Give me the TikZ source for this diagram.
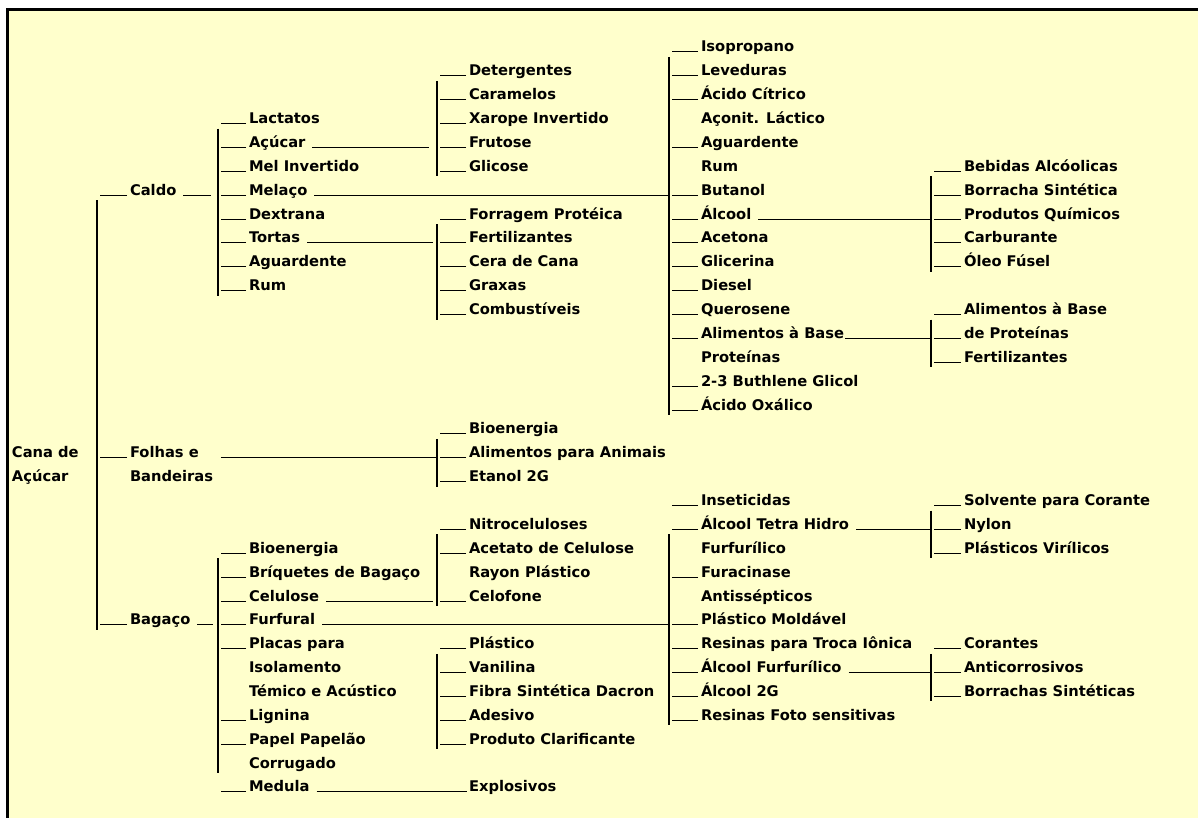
\documentclass[tikz,border=0pt]{standalone}
\usepackage{fontspec}
\setmainfont{DejaVu Sans}
\usepackage{xcolor}
\definecolor{chartpaper}{HTML}{FFFFCC}
\tikzset{
  item/.style={
    anchor=base west,
    inner sep=0pt,
    outer sep=0pt,
    font=\fontsize{14.7}{17}\selectfont\bfseries
  },
  stub/.style={
    line width=1pt,
    shorten <=3pt,
    shorten >=3pt
  },
  link/.style={
    line width=1pt,
    shorten <=7pt
  },
  bar/.style={
    line width=1.4pt,
    shorten <=5pt,
    shorten >=-5pt
  },
  heavybar/.style={
    bar,
    line width=2.8pt
  },
  frameline/.style={
    line width=3pt
  }
}

\begin{document}
\begin{tikzpicture}[x=1pt, y=-23.87pt]
\useasboundingbox (0,-2.1785) rectangle (1198,32.0905);
\fill[white] (0,-2.1785) rectangle (1198,32.0905);
\fill[chartpaper] (7.5,-1.801) rectangle (1198,32.0905);
\draw[frameline] (7.5,32.0905) -- (7.5,-1.801) -- (1198,-1.801);

% raiz
\node[item] (cana) at (12,17) {Cana de};
\node[item] (canab) at (12,18) {Açúcar};

% primeiro nivel
\coordinate (mainbar) at (97,0);
\foreach \rw/\nm/\lbl in {6/caldo/Caldo, 17/folhas/Folhas e, 24/bagaco/Bagaço}{
  \node[item] (\nm) at (130,\rw) {\lbl};
  \draw[stub] (\nm.base west) -- (\nm.base west -| mainbar);
}
\node[item] (bandeiras) at (130,18) {Bandeiras};
\draw[heavybar] (caldo.base west -| mainbar) -- (bagaco.base west -| mainbar);

% caldo
\coordinate (caldobar) at (218,0);
\foreach \rw/\nm/\lbl in {3/lactatos/Lactatos, 4/acucar/Açúcar, 5/melinv/Mel Invertido,
    6/melaco/Melaço, 7/dextrana/Dextrana, 8/tortas/Tortas, 9/aguardcaldo/Aguardente, 10/rumcaldo/Rum}{
  \node[item] (\nm) at (249,\rw) {\lbl};
  \draw[stub] (\nm.base west) -- (\nm.base west -| caldobar);
}
\draw[bar] (lactatos.base west -| caldobar) -- (rumcaldo.base west -| caldobar);
\draw[link, shorten >=7pt] (caldo.base east) -- (caldo.base east -| caldobar);

% acucar
\coordinate (acucarbar) at (437,0);
\foreach \rw/\nm/\lbl in {1/detergentes/Detergentes, 2/caramelos/Caramelos, 3/xarope/Xarope Invertido,
    4/frutose/Frutose, 5/glicose/Glicose}{
  \node[item] (\nm) at (469,\rw) {\lbl};
  \draw[stub] (\nm.base west) -- (\nm.base west -| acucarbar);
}
\draw[bar] (detergentes.base west -| acucarbar) -- (glicose.base west -| acucarbar);
\draw[link, shorten >=8pt] (acucar.base east) -- (acucar.base east -| acucarbar);

% tortas
\coordinate (tortasbar) at (437,0);
\foreach \rw/\nm/\lbl in {7/forragem/Forragem Protéica, 8/fertcaldo/Fertilizantes, 9/cera/Cera de Cana,
    10/graxas/Graxas, 11/combustiveis/Combustíveis}{
  \node[item] (\nm) at (469,\rw) {\lbl};
  \draw[stub] (\nm.base west) -- (\nm.base west -| tortasbar);
}
\draw[bar] (forragem.base west -| tortasbar) -- (combustiveis.base west -| tortasbar);
\draw[link, shorten >=4pt] (tortas.base east) -- (tortas.base east -| tortasbar);

% melaco
\coordinate (melacobar) at (669,0);
\foreach \rw/\nm/\lbl in {0/isopropano/Isopropano, 1/leveduras/Leveduras, 2/citrico/Ácido Cítrico,
    4/aguardmel/Aguardente, 6/butanol/Butanol, 7/alcool/Álcool, 8/acetona/Acetona,
    9/glicerina/Glicerina, 10/diesel/Diesel, 11/querosene/Querosene, 12/alimbase/Alimentos à Base,
    14/buthlene/2-3 Buthlene Glicol, 15/oxalico/Ácido Oxálico}{
  \node[item] (\nm) at (701,\rw) {\lbl};
  \draw[stub] (\nm.base west) -- (\nm.base west -| melacobar);
}
\node[item] (aconit) at (701,3) {Açonit. Láctico};
\node[item] (rummel) at (701,5) {Rum};
\node[item] (proteinas) at (701,13) {Proteínas};
\draw[bar] (isopropano.base west -| melacobar) -- (oxalico.base west -| melacobar);
\draw[link] (melaco.base east) -- (melaco.base east -| melacobar);

% alcool
\coordinate (alcoolbar) at (931,0);
\foreach \rw/\nm/\lbl in {5/bebidas/Bebidas Alcóolicas, 6/borracha/Borracha Sintética,
    7/quimicos/Produtos Químicos, 8/carburante/Carburante, 9/oleo/Óleo Fúsel}{
  \node[item] (\nm) at (964,\rw) {\lbl};
  \draw[stub] (\nm.base west) -- (\nm.base west -| alcoolbar);
}
\draw[heavybar] (bebidas.base west -| alcoolbar) -- (oleo.base west -| alcoolbar);
\draw[link] (alcool.base east) -- (alcool.base east -| alcoolbar);

% alimentos a base
\coordinate (alimbar) at (931,0);
\foreach \rw/\nm/\lbl in {11/alimprot/Alimentos à Base, 12/deprot/de Proteínas, 13/fertalim/Fertilizantes}{
  \node[item] (\nm) at (964,\rw) {\lbl};
  \draw[stub] (\nm.base west) -- (\nm.base west -| alimbar);
}
\draw[heavybar] (alimprot.base west -| alimbar) -- (fertalim.base west -| alimbar);
\draw[link, shorten <=1pt] (alimbase.base east) -- (alimbase.base east -| alimbar);

% folhas e bandeiras
\coordinate (folhasbar) at (437,0);
\foreach \rw/\nm/\lbl in {16/bioenfolhas/Bioenergia, 17/animais/Alimentos para Animais, 18/etanol/Etanol 2G}{
  \node[item] (\nm) at (469,\rw) {\lbl};
  \draw[stub] (\nm.base west) -- (\nm.base west -| folhasbar);
}
\draw[bar] (bioenfolhas.base west -| folhasbar) -- (etanol.base west -| folhasbar);
\draw[link, shorten <=22pt] (folhas.base east) -- (folhas.base east -| folhasbar);

% bagaco
\coordinate (bagacobar) at (218,0);
\foreach \rw/\nm/\lbl in {21/bioenbagaco/Bioenergia, 22/briquetes/Bríquetes de Bagaço, 23/celulose/Celulose,
    24/furfural/Furfural, 25/placas/Placas para, 28/lignina/Lignina, 29/papel/Papel Papelão, 31/medula/Medula}{
  \node[item] (\nm) at (249,\rw) {\lbl};
  \draw[stub] (\nm.base west) -- (\nm.base west -| bagacobar);
}
\node[item] (isolamento) at (249,26) {Isolamento};
\node[item] (termico) at (249,27) {Témico e Acústico};
\node[item] (corrugado) at (249,30) {Corrugado};
\draw[bar] (bioenbagaco.base west -| bagacobar) -- (corrugado.base west -| bagacobar);
\draw[link, shorten >=5pt] (bagaco.base east) -- (bagaco.base east -| bagacobar);

% celulose
\coordinate (celulosebar) at (437,0);
\foreach \rw/\nm/\lbl in {20/nitro/Nitroceluloses, 21/acetato/Acetato de Celulose, 23/celofone/Celofone}{
  \node[item] (\nm) at (469,\rw) {\lbl};
  \draw[stub] (\nm.base west) -- (\nm.base west -| celulosebar);
}
\node[item] (rayon) at (469,22) {Rayon Plástico};
\draw[bar] (nitro.base west -| celulosebar) -- (celofone.base west -| celulosebar);
\draw[link, shorten >=4pt] (celulose.base east) -- (celulose.base east -| celulosebar);

% placas, lignina
\coordinate (placasbar) at (437,0);
\foreach \rw/\nm/\lbl in {25/plastico/Plástico, 26/vanilina/Vanilina, 27/dacron/Fibra Sintética Dacron,
    28/adesivo/Adesivo, 29/clarificante/Produto Clarificante}{
  \node[item] (\nm) at (469,\rw) {\lbl};
  \draw[stub] (\nm.base west) -- (\nm.base west -| placasbar);
}
\draw[bar] (plastico.base west -| placasbar) -- (clarificante.base west -| placasbar);

% medula
\node[item] (explosivos) at (469,31) {Explosivos};
\draw[link, shorten >=2pt] (medula.base east) -- (explosivos.base west);

% furfural
\coordinate (furfuralbar) at (669,0);
\foreach \rw/\nm/\lbl in {19/inseticidas/Inseticidas, 20/tetrahidro/Álcool Tetra Hidro, 22/furacinase/Furacinase,
    24/moldavel/Plástico Moldável, 25/ionica/Resinas para Troca Iônica, 26/furfurilico/Álcool Furfurílico,
    27/alcooldoisg/Álcool 2G, 28/fotosens/Resinas Foto sensitivas}{
  \node[item] (\nm) at (701,\rw) {\lbl};
  \draw[stub] (\nm.base west) -- (\nm.base west -| furfuralbar);
}
\node[item] (furfurilicob) at (701,21) {Furfurílico};
\node[item] (antissepticos) at (701,23) {Antissépticos};
\draw[bar] (tetrahidro.base west -| furfuralbar) -- (fotosens.base west -| furfuralbar);
\draw[link] (furfural.base east) -- (furfural.base east -| furfuralbar);

% alcool tetra hidro
\coordinate (tetrabar) at (931,0);
\foreach \rw/\nm/\lbl in {19/solvente/Solvente para Corante, 20/nylon/Nylon, 21/vinilicos/Plásticos Virílicos}{
  \node[item] (\nm) at (964,\rw) {\lbl};
  \draw[stub] (\nm.base west) -- (\nm.base west -| tetrabar);
}
\draw[heavybar] (solvente.base west -| tetrabar) -- (vinilicos.base west -| tetrabar);
\draw[link] (tetrahidro.base east) -- (tetrahidro.base east -| tetrabar);

% alcool furfurilico
\coordinate (furfbar) at (931,0);
\foreach \rw/\nm/\lbl in {25/corantes/Corantes, 26/anticorrosivos/Anticorrosivos, 27/borrachas/Borrachas Sintéticas}{
  \node[item] (\nm) at (964,\rw) {\lbl};
  \draw[stub] (\nm.base west) -- (\nm.base west -| furfbar);
}
\draw[heavybar] (corantes.base west -| furfbar) -- (borrachas.base west -| furfbar);
\draw[link] (furfurilico.base east) -- (furfurilico.base east -| furfbar);
\end{tikzpicture}
\end{document}
